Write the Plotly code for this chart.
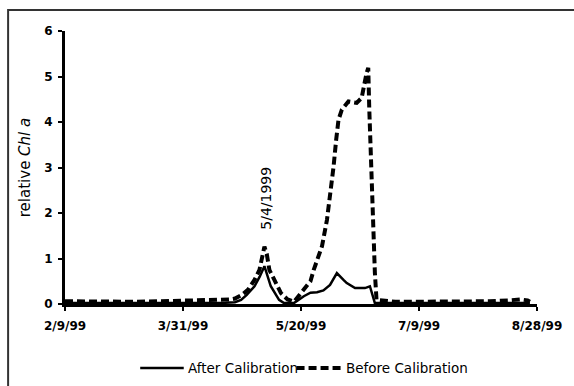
import pandas as pd
import plotly.graph_objects as go

# ---- data (x = days after 2/9/1999) ----
start_date = "1999-02-09"

days_after = [0, 10, 20, 30, 40, 50, 60, 68, 72, 74.6, 77, 80.3, 82.5, 84.5, 87.2, 90.7, 92.8,
              97, 101.2, 104, 106.8, 109.5, 112.3, 115.2, 118, 119.4, 122.9, 127.1, 129.2, 131.3,
              135, 150, 165, 180, 197]
chl_after = [0.02, 0.02, 0.02, 0.02, 0.02, 0.02, 0.02, 0.03, 0.04, 0.09, 0.2, 0.39, 0.6, 0.83, 0.39, 0.09, 0.02,
             0.02, 0.17, 0.25, 0.26, 0.3, 0.42, 0.68, 0.53, 0.46, 0.35, 0.35, 0.39, 0.02,
             0.02, 0.02, 0.02, 0.02, 0.02]

days_before = [0, 10, 20, 30, 40, 50, 55, 60, 65, 70, 72, 75, 77.5, 80.3, 82.4, 84, 84.5, 85.5, 86.6,
               89.4, 91.5, 94.3, 97, 100.6, 104, 105.4, 108.9, 111, 112.4, 113.8, 114.9, 115.9,
               117.3, 120.1, 123.6, 125.7, 127.8, 128.5, 128.9, 130.6, 131.3, 132,
               140, 150, 165, 180, 188, 193, 196, 197]
chl_before = [0.06, 0.05, 0.05, 0.05, 0.06, 0.07, 0.08, 0.08, 0.09, 0.1, 0.12, 0.2, 0.31, 0.53, 0.75, 1.1, 1.26, 1.1, 0.75,
              0.46, 0.24, 0.1, 0.05, 0.28, 0.5, 0.75, 1.27, 1.85, 2.36, 3.02, 3.61, 4.05,
              4.27, 4.45, 4.42, 4.53, 5.08, 5.19, 4.34, 1.63, 0.69, 0.09,
              0.05, 0.05, 0.05, 0.06, 0.08, 0.1, 0.08, 0.05]

x_tick_days = [0, 50, 100, 150, 200]
x_tick_labels = ["2/9/99", "3/31/99", "5/20/99", "7/9/99", "8/28/99"]
y_ticks = [0, 1, 2, 3, 4, 5, 6]

annot_day = 84
annot_text = "5/4/1999"

series_names = ["After Calibration", "Before Calibration"]

# ---- build ----
base = pd.Timestamp(start_date)
to_date = lambda d: base + pd.to_timedelta(pd.Series(d, dtype=float), unit="D")

FONT = "DejaVu Sans"
W, H = 574, 386
ML, MR, MT, MB = 65, 32, 31, 82
PW, PH = W - ML - MR, H - MT - MB

def px(xp):  # pixel x -> paper
    return (xp - ML) / PW

def py(yp):  # pixel y -> paper
    return (H - MB - yp) / PH

solid = dict(color="black", width=2.5)
dashed = dict(color="black", width=4, dash="8px,4px")

fig = go.Figure()
fig.add_trace(go.Scatter(x=to_date(days_after), y=chl_after, mode="lines",
                         name=series_names[0], line=solid, showlegend=False))
fig.add_trace(go.Scatter(x=to_date(days_before), y=chl_before, mode="lines",
                         name=series_names[1], line=dashed, showlegend=False))

tickvals = list(to_date(x_tick_days))
fig.update_xaxes(range=[tickvals[0], tickvals[-1]], tickvals=tickvals, ticktext=x_tick_labels,
                 showgrid=False, zeroline=False, showline=True, linecolor="black", linewidth=3,
                 ticks="outside", ticklen=4, tickwidth=1.5, tickcolor="black", ticklabelstandoff=5,
                 tickfont=dict(family=FONT, size=12, color="black", weight="bold"))
fig.update_yaxes(range=[0, 6], tickvals=y_ticks, showgrid=False, zeroline=False,
                 showline=True, linecolor="black", linewidth=3,
                 ticks="outside", ticklen=4, tickwidth=1.5, tickcolor="black", ticklabelstandoff=3,
                 tickfont=dict(family=FONT, size=12, color="black", weight="bold"),
                 title=dict(text="relative <i>Chl a</i>", font=dict(family=FONT, size=15, color="black"),
                            standoff=10))

fig.add_annotation(x=to_date([annot_day])[0], y=2.33, text=annot_text, textangle=-90,
                   showarrow=False, xshift=2.5,
                   font=dict(family=FONT, size=14, color="black"))

# chart frame (right/bottom edges lie beyond the visible window, as in the original)
fig.add_shape(type="rect", xref="paper", yref="paper",
              x0=px(7.5), x1=px(W + 60), y0=py(H + 60), y1=py(10),
              line=dict(color="#333333", width=2), fillcolor="rgba(0,0,0,0)", layer="below")

# legend
leg_y = py(368)
fig.add_shape(type="line", xref="paper", yref="paper", x0=px(141), x1=px(185), y0=leg_y, y1=leg_y, line=solid)
fig.add_annotation(xref="paper", yref="paper", x=px(187), y=leg_y, text=series_names[0], showarrow=False,
                   xanchor="left", yanchor="middle", font=dict(family=FONT, size=13.5, color="black"))
fig.add_shape(type="line", xref="paper", yref="paper", x0=px(299), x1=px(347), y0=leg_y, y1=leg_y, line=dashed)
fig.add_annotation(xref="paper", yref="paper", x=px(347), y=leg_y, text=series_names[1], showarrow=False,
                   xanchor="left", yanchor="middle", font=dict(family=FONT, size=13.5, color="black"))

fig.update_layout(width=W, height=H, margin=dict(l=ML, r=MR, t=MT, b=MB),
                  plot_bgcolor="white", paper_bgcolor="white", showlegend=False)

fig.write_html("out.html")
